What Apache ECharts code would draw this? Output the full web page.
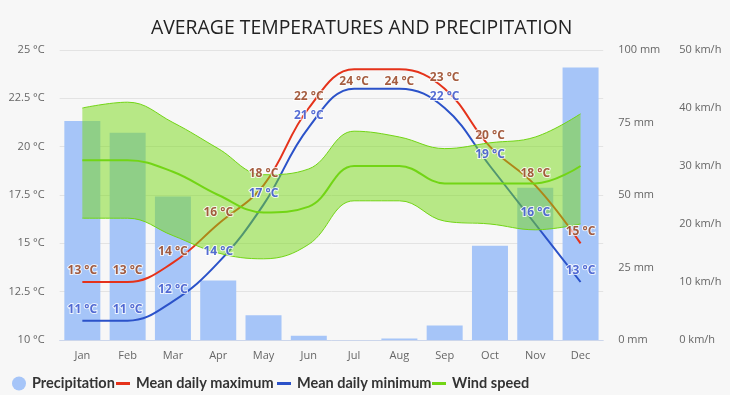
<!DOCTYPE html>
<html>
<head>
<meta charset="utf-8">
<script src="https://cdn.jsdelivr.net/npm/echarts@6/dist/echarts.min.js"></script>
<style>
html,body{margin:0;padding:0;background:#f7f7f7;}
#chart{width:730px;height:395px;}
</style>
</head>
<body>
<div id="chart"></div>
<script>
const months = ['Jan','Feb','Mar','Apr','May','Jun','Jul','Aug','Sep','Oct','Nov','Dec'];
const precipitation = [75.5, 71.5, 49.5, 20.5, 8.5, 1.5, 0, 0.5, 5, 32.5, 52.5, 94];
const tempMax = [13, 13, 14, 16, 18, 22, 24, 24, 23, 20, 18, 15];
const tempMin = [11, 11, 12, 14, 17, 21, 23, 23, 22, 19, 16, 13];
const maxLabelsBelow = ['Jul', 'Aug'];
const hiddenMinLabels = ['Jul', 'Aug'];
const windMean = [31, 31, 29, 25, 22, 23, 30, 30, 27, 27, 27, 30];
const windHigh = [40, 41, 37.5, 33, 28.5, 29.5, 36, 35, 33, 34, 35, 39];
const windLow = [21, 21, 18, 15, 14, 16.5, 24, 24, 20.5, 20, 19, 20];
const legendNames = ['Precipitation', 'Mean daily maximum', 'Mean daily minimum', 'Wind speed'];

const FONT = "'Open Sans', sans-serif";
const LEGEND_FONT = "Lato, 'Open Sans', sans-serif";
const C_BAR = '#a6c5f8';
const C_MAX = '#e5321a';
const C_MIN = '#2b52c9';
const C_WIND = '#72d515';

const chart = echarts.init(document.getElementById('chart'));

function legendItem(name, left, icon, w, h) {
  return {
    data: [{name: name, icon: icon}],
    left: left, top: 376,
    itemWidth: w, itemHeight: h,
    itemGap: 0, padding: 0,
    selectedMode: false,
    textStyle: {fontFamily: LEGEND_FONT, fontSize: 14.5, fontWeight: 'bold', color: '#333', padding: [0, 0, 0, 1]}
  };
}

const labelBase = {
  show: true, position: 'top', distance: 5,
  fontFamily: FONT, fontSize: 12, fontWeight: 'bold',
  textBorderColor: '#ffffff', textBorderWidth: 2,
  formatter: p => p.value + ' °C'
};

const option = {
  backgroundColor: '#f7f7f7',
  animation: false,
  title: {
    text: 'AVERAGE TEMPERATURES AND PRECIPITATION',
    left: 146, top: 14,
    textStyle: {fontFamily: FONT, fontSize: 19.4, fontWeight: 'normal', color: '#222'}
  },
  legend: [
    legendItem(legendNames[0], 12, 'circle', 14, 14),
    legendItem(legendNames[1], 116, 'rect', 14, 3),
    legendItem(legendNames[2], 277, 'rect', 14, 3),
    legendItem(legendNames[3], 432, 'rect', 14, 3)
  ],
  grid: {left: 59.7, right: 126.8, top: 50, bottom: 55, outerBoundsMode: 'none', containLabel: false},
  xAxis: {
    type: 'category', data: months, boundaryGap: true,
    axisLine: {lineStyle: {color: '#ccd6eb'}},
    axisTick: {alignWithLabel: true, length: 7, lineStyle: {color: '#ccd6eb'}},
    axisLabel: {fontFamily: FONT, fontSize: 11, color: '#666', margin: 10}
  },
  yAxis: [
    {
      type: 'value', min: 10, max: 25, interval: 2.5, position: 'left',
      axisLabel: {fontFamily: FONT, fontSize: 11, color: '#666', margin: 15, formatter: v => v + ' °C'},
      splitLine: {lineStyle: {color: '#e3e3e3'}},
      axisLine: {show: false}, axisTick: {show: false}
    },
    {
      type: 'value', min: 0, max: 100, interval: 25, position: 'right',
      axisLabel: {fontFamily: FONT, fontSize: 11, color: '#666', margin: 15, formatter: v => v + ' mm'},
      splitLine: {show: false}, axisLine: {show: false}, axisTick: {show: false}
    },
    {
      type: 'value', min: 0, max: 50, interval: 10, position: 'right', offset: 61,
      axisLabel: {fontFamily: FONT, fontSize: 11, color: '#666', margin: 15, formatter: v => v + ' km/h'},
      splitLine: {show: false}, axisLine: {show: false}, axisTick: {show: false}
    }
  ],
  series: [
    {
      name: legendNames[0], type: 'bar', data: precipitation, yAxisIndex: 1,
      barWidth: 36, itemStyle: {color: C_BAR}, z: 1
    },
    {
      name: legendNames[1], type: 'line', data: tempMax, yAxisIndex: 0,
      smooth: 0.4, symbol: 'none', color: C_MAX, lineStyle: {color: C_MAX, width: 2}, z: 2
    },
    {
      name: legendNames[2], type: 'line', data: tempMin, yAxisIndex: 0,
      smooth: 0.4, symbol: 'none', color: C_MIN, lineStyle: {color: C_MIN, width: 2}, z: 2
    },
    {
      name: 'windLow', type: 'line', data: windLow, yAxisIndex: 2, stack: 'wind',
      smooth: 0.4, symbol: 'none', lineStyle: {color: C_WIND, width: 1}, z: 3
    },
    {
      name: 'windBand', type: 'line', data: windHigh.map((v, i) => v - windLow[i]), yAxisIndex: 2, stack: 'wind',
      smooth: 0.4, symbol: 'none', lineStyle: {color: C_WIND, width: 1},
      areaStyle: {color: 'rgb(119,217,21)', opacity: 0.5}, z: 3
    },
    {
      name: legendNames[3], type: 'line', data: windMean, yAxisIndex: 2,
      smooth: 0.4, symbol: 'none', color: C_WIND, lineStyle: {color: C_WIND, width: 2}, z: 4
    },
    {
      name: 'maxLabels', type: 'scatter', yAxisIndex: 0,
      data: tempMax.map((v, i) => maxLabelsBelow.includes(months[i]) ? {value: v, label: {position: 'bottom', distance: 6}} : v),
      symbolSize: 1, itemStyle: {color: 'rgba(0,0,0,0)'}, silent: true,
      label: Object.assign({}, labelBase, {color: '#8f3510'}), z: 6
    },
    {
      name: 'minLabels', type: 'scatter', yAxisIndex: 0,
      data: tempMin.map((v, i) => hiddenMinLabels.includes(months[i]) ? {value: v, label: {show: false}} : v),
      symbolSize: 1, itemStyle: {color: 'rgba(0,0,0,0)'}, silent: true,
      label: Object.assign({}, labelBase, {color: '#2a47c8'}), z: 6
    }
  ]
};
chart.setOption(option);
</script>
</body>
</html>
